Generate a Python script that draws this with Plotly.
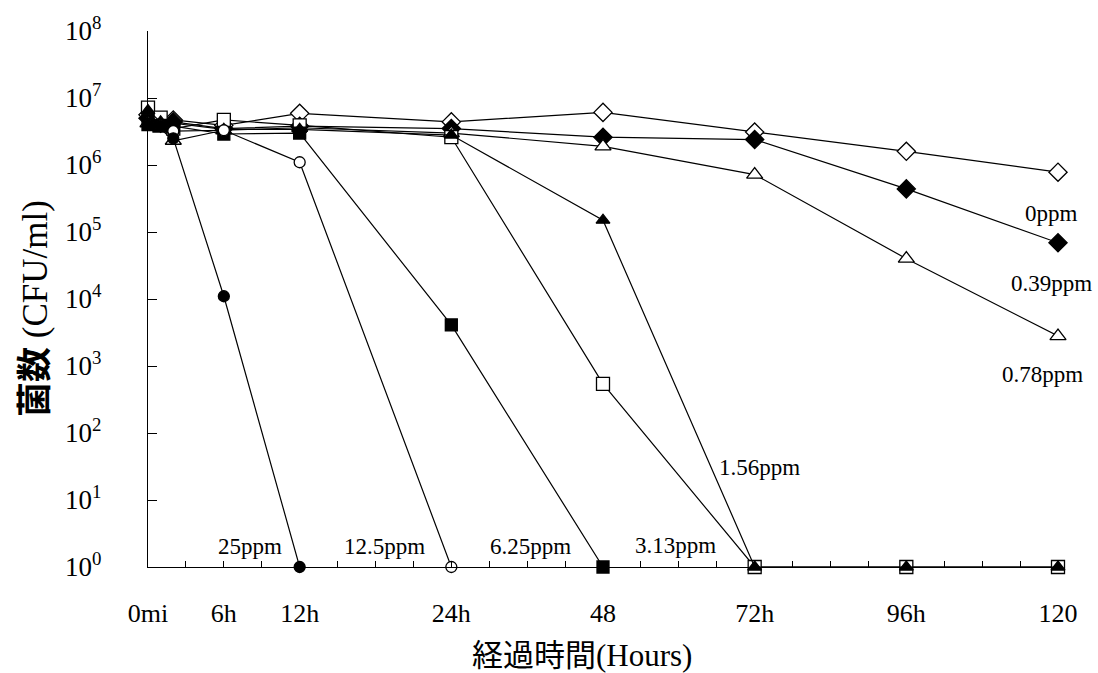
import plotly.graph_objects as go

# ---- data ----
hours = [0, 1, 2, 6, 12, 24, 48, 72, 96, 120]
tick_hours = [0, 6, 12, 24, 48, 72, 96, 120]
tick_labels = ["0mi", "6h", "12h", "24h", "48", "72h", "96h", "120"]

ppm0 = [5.6e6, 4.5e6, 4.7e6, 3.9e6, 5.9e6, 4.4e6, 6.1e6, 3.1e6, 1.6e6, 7.8e5]
ppm039 = [5.0e6, 4.2e6, 4.4e6, 3.5e6, 3.8e6, 3.5e6, 2.6e6, 2.4e6, 4.4e5, 6.9e4]
ppm078 = [4.2e6, 3.5e6, 2.3e6, 3.3e6, 3.6e6, 3.0e6, 1.9e6, 7.2e5, 4.0e4, 2.8e3]
ppm156 = [6.5e6, 4.4e6, 4.2e6, 3.4e6, 3.4e6, 2.8e6, 1.5e5, 1, 1, 1]
ppm313 = [7.2e6, 5.1e6, 3.5e6, 4.7e6, 3.9e6, 2.6e6, 540, 1, 1, 1]
ppm625 = [4.0e6, 3.9e6, 3.8e6, 2.9e6, 3.0e6, 4.1e3, 1]
ppm125 = [4.0e6, 3.9e6, 3.2e6, 3.3e6, 1.1e6, 1]
ppm25 = [4.0e6, 3.9e6, 2.5e6, 1.1e4, 1]


def hour_to_pos(h):
    # axis is piecewise: 12 h per step up to 24 h, then 24 h per step
    return h / 12 if h <= 24 else 2 + (h - 24) / 24


# drawing order: open square before filled triangle so the triangle sits inside it
series = [
    ("0ppm", ppm0, "diamond", "white", 14),
    ("0.39ppm", ppm039, "diamond", "black", 14),
    ("0.78ppm", ppm078, "triangle-up", "white", 14),
    ("3.13ppm", ppm313, "square", "white", 13),
    ("1.56ppm", ppm156, "triangle-up", "black", 12),
    ("6.25ppm", ppm625, "square", "black", 12),
    ("12.5ppm", ppm125, "circle", "white", 11),
    ("25ppm", ppm25, "circle", "black", 11),
]

fig = go.Figure()
for name, vals, sym, fill, size in series:
    xs = [hour_to_pos(h) for h in hours[: len(vals)]]
    fig.add_trace(go.Scatter(
        x=xs, y=vals, mode="lines+markers", name=name,
        line=dict(color="black", width=1.2),
        marker=dict(symbol=sym, color=fill, size=size,
                    line=dict(color="black", width=1.3)),
        cliponaxis=False, showlegend=False,
    ))

serif = "Liberation Serif, Times New Roman, serif"
cjk = "Liberation Serif, Noto Sans CJK JP, serif"

# x ticks: every quarter step, labelled at the named hours
step_vals = [i * 0.25 for i in range(25)]
label_pos = {round(hour_to_pos(h), 4): t for h, t in zip(tick_hours, tick_labels)}
step_text = [label_pos.get(round(v, 4), "") for v in step_vals]

fig.update_xaxes(
    range=[0, 6], showgrid=False, zeroline=False,
    showline=True, linecolor="black", linewidth=1.2,
    tickmode="array", tickvals=step_vals, ticktext=step_text,
    ticks="inside", ticklen=6, tickwidth=1, tickcolor="black",
    ticklabelstandoff=23,
    tickfont=dict(family=serif, size=26, color="black"),
)

y_decades = list(range(0, 9))
fig.update_yaxes(
    type="log", range=[0, 8], showgrid=False, zeroline=False,
    showline=True, linecolor="black", linewidth=1.2,
    tickmode="array", tickvals=[10 ** d for d in y_decades],
    ticktext=[f"10<sup>{d}</sup>" for d in y_decades],
    ticks="inside", ticklen=9, tickwidth=1, tickcolor="black",
    ticklabelstandoff=40, ticklabeloverflow="allow",
    tickfont=dict(family=serif, size=27, color="black"),
)

ann_font = dict(family=serif, size=23, color="black")
labels = [
    ("25ppm", 0.67, 0.31), ("12.5ppm", 1.56, 0.31), ("6.25ppm", 2.52, 0.31),
    ("3.13ppm", 3.48, 0.32), ("1.56ppm", 4.03, 1.49), ("0ppm", 5.96, 5.28),
    ("0.39ppm", 5.96, 4.23), ("0.78ppm", 5.90, 2.88),
]
for txt, x, y in labels:
    fig.add_annotation(x=x, y=y, xref="x", yref="y", text=txt, showarrow=False,
                       font=ann_font, xanchor="center", yanchor="middle")

fig.add_annotation(xref="paper", yref="paper", x=0, y=0.5, xshift=-113, yshift=-10,
                   text="<b>菌数</b> (CFU/ml)", textangle=-90, showarrow=False,
                   font=dict(family=cjk, size=35, color="black"),
                   xanchor="center", yanchor="middle")
fig.add_annotation(xref="paper", yref="paper", x=0.477, y=0, yshift=-88,
                   text="経過時間(Hours)", showarrow=False,
                   font=dict(family=cjk, size=31, color="black"),
                   xanchor="center", yanchor="middle")

fig.update_layout(
    width=1098, height=673,
    margin=dict(l=148, r=40, t=20, b=106),
    paper_bgcolor="white", plot_bgcolor="white",
)

# remove the default 8px page margin so the figure fills the window exactly
fig.write_html("out.html", config={"displayModeBar": False},
               post_script="document.body.style.margin='0px';document.body.style.overflow='hidden';")
